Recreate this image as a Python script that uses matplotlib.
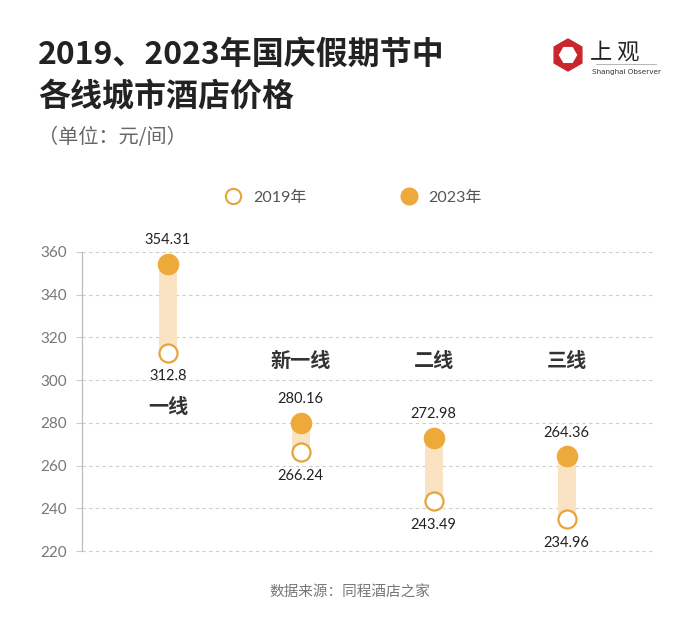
import numpy as np
import matplotlib
matplotlib.use('Agg')
import matplotlib.pyplot as plt
from matplotlib.lines import Line2D
from matplotlib.patches import RegularPolygon

plt.rcParams['font.family'] = ['Lato', 'Noto Sans CJK SC', 'DejaVu Sans']

# data
cities = ['一线', '新一线', '二线', '三线']
price_2019 = [312.8, 266.24, 243.49, 234.96]
price_2023 = [354.31, 280.16, 272.98, 264.36]
y_ticks = [220, 240, 260, 280, 300, 320, 340, 360]

ORANGE = '#EEA93B'
EDGE = '#E5A53A'
PEACH = '#FAE3C3'
CJK = ['Noto Sans CJK SC', 'DejaVu Sans']

fig = plt.figure(figsize=(7, 6.22), dpi=100)
ax = fig.add_axes([0.117, 0.114, 0.814, 0.481])

x = np.arange(len(cities))
lo = np.array(price_2019)
hi = np.array(price_2023)

# connecting bars
ax.bar(x, hi - lo, bottom=lo, width=0.135, color=PEACH, zorder=2)
ax.plot(x, hi, 'o', ms=14.5, color=ORANGE, mec=ORANGE, zorder=3, clip_on=False)
ax.plot(x, lo, 'o', ms=13, mfc='white', mec=EDGE, mew=1.6, zorder=3, clip_on=False)

for xi, a, b, name in zip(x, lo, hi, cities):
    ax.annotate(f'{b:g}', (xi, b), xytext=(0, 17), textcoords='offset points',
                ha='center', va='center', fontsize=10.5, color='#222222',
                annotation_clip=False)
    ax.annotate(f'{a:g}', (xi, a), xytext=(0, -17), textcoords='offset points',
                ha='center', va='center', fontsize=10.5, color='#222222',
                annotation_clip=False)
    # city name sits below the low label if the bar is in the way
    ny = a - 25 if b > 300 else 309
    ax.text(xi, ny, name, ha='center', va='center', fontsize=14.5,
            fontweight='bold', color='#333333', family=CJK)

ax.set_xlim(-0.647, 3.64)
ax.set_ylim(220, 360)
ax.set_yticks(y_ticks)
ax.set_xticks([])
ax.grid(axis='y', linestyle=(0, (3, 3)), color='#cccccc', lw=0.8, zorder=0)
for gl in ax.yaxis.get_gridlines():
    gl.set_clip_on(False)
ax.tick_params(axis='y', length=4, color='#cccccc', pad=7, labelsize=11,
               labelcolor='#777777')
for s in ['top', 'right', 'bottom']:
    ax.spines[s].set_visible(False)
ax.spines['left'].set_color('#bbbbbb')
ax.spines['left'].set_linewidth(0.9)

# titles
fig.text(0.054, 1 - 55 / 622, '2019、2023年国庆假期节中', fontsize=23,
         fontweight='bold', color='#222222', va='center', family=CJK)
fig.text(0.054, 1 - 97 / 622, '各线城市酒店价格', fontsize=23,
         fontweight='bold', color='#222222', va='center', family=CJK)
fig.text(0.054, 1 - 138 / 622, '（单位：元/间）', fontsize=14.5,
         color='#666666', va='center', family=CJK)
fig.text(0.5, 1 - 593 / 622, '数据来源：同程酒店之家', fontsize=10.5,
         color='#777777', ha='center', va='center', family=CJK)

# legend
handles = [
    Line2D([], [], marker='o', ls='', ms=11, mfc='white', mec=EDGE, mew=1.5),
    Line2D([], [], marker='o', ls='', ms=12, color=ORANGE),
]
leg = fig.legend(handles, ['2019年', '2023年'], loc='center',
                 bbox_to_anchor=(0.505, 1 - 198 / 622), ncol=2, frameon=False,
                 handlelength=1, handletextpad=0.75, columnspacing=5.9,
                 prop={'family': ['Lato', 'Noto Sans CJK SC'], 'size': 11.5})
for t in leg.get_texts():
    t.set_color('#555555')

# logo
fig.patches.append(RegularPolygon((568, 622 - 55), 6, radius=16, orientation=0,
                                  color='#C9252C', transform=None, figure=fig))
fig.patches.append(RegularPolygon((568, 622 - 55), 6, radius=8.5,
                                  orientation=np.pi / 6, color='white',
                                  transform=None, figure=fig))
fig.text(590 / 700, 1 - 52 / 622, '上 观', fontsize=16, color='#222222',
         va='center', family=CJK)
fig.add_artist(Line2D([596 / 700, 656 / 700], [1 - 64 / 622, 1 - 64 / 622],
                      color='#999999', lw=0.5))
fig.text(626 / 700, 1 - 72 / 622, 'Shanghai Observer', fontsize=5.2,
         color='#333333', ha='center', va='center', family='DejaVu Sans')

fig.savefig('out.png', dpi=100)
